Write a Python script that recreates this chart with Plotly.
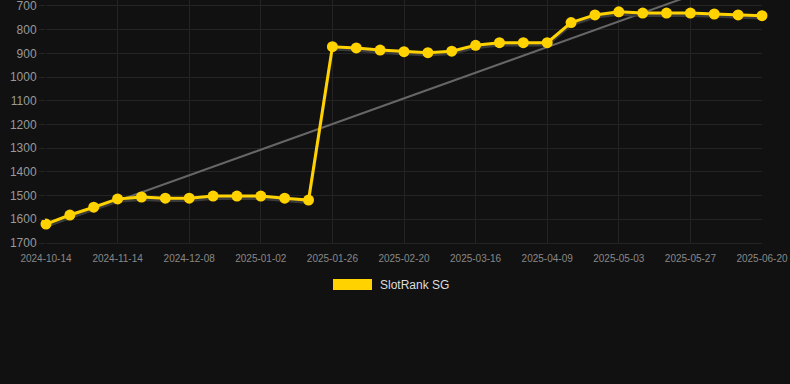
import plotly.graph_objects as go

dates = ["2024-10-14", "2024-10-24", "2024-11-03", "2024-11-14", "2024-11-22", "2024-11-30",
         "2024-12-08", "2024-12-16", "2024-12-24", "2025-01-02", "2025-01-10", "2025-01-18",
         "2025-01-26", "2025-02-03", "2025-02-11", "2025-02-20", "2025-02-28", "2025-03-08",
         "2025-03-16", "2025-03-24", "2025-04-01", "2025-04-09", "2025-04-17", "2025-04-25",
         "2025-05-03", "2025-05-11", "2025-05-19", "2025-05-27", "2025-06-04", "2025-06-12",
         "2025-06-20"]
ranks = [1620, 1582, 1549, 1514, 1506, 1511, 1511, 1502, 1502, 1502, 1511, 1519,
         872, 877, 886, 893, 897, 891, 866, 855, 855, 855,
         770, 738, 725, 730, 730, 730, 734, 738, 741]
trend_ends = [1631, 549]
y_ticks = [700, 800, 900, 1000, 1100, 1200, 1300, 1400, 1500, 1600, 1700]
series_name = "SlotRank SG"

idx = list(range(len(dates)))
tick_idx = idx[::3]
tick_labels = dates[::3]

BG = "#111111"
GRID = "#242424"
YELLOW = "#FFD200"

fig = go.Figure()
fig.add_trace(go.Scatter(x=[idx[0], idx[-1]], y=trend_ends, mode="lines",
                         line=dict(color="#666666", width=2), showlegend=False,
                         hoverinfo="skip"))
fig.add_trace(go.Scatter(x=idx, y=[v + 10 for v in ranks], mode="lines",
                         line=dict(color="#3a3a3a", width=3), showlegend=False,
                         hoverinfo="skip"))
fig.add_trace(go.Scatter(x=idx, y=ranks, mode="lines+markers", name=series_name,
                         line=dict(color=YELLOW, width=3), showlegend=False,
                         marker=dict(color=YELLOW, size=11), cliponaxis=False))

# legend drawn as a box + label
fig.add_shape(type="rect", xref="paper", yref="paper",
              x0=(333 - 46) / 716, x1=(372 - 46) / 716, y0=-36 / 243, y1=-47 / 243,
              fillcolor=YELLOW, line=dict(width=0))
fig.add_annotation(xref="paper", yref="paper", x=(378 - 46) / 716, y=-41.5 / 243,
                   xanchor="left", yanchor="middle", text=series_name, showarrow=False,
                   font=dict(size=12, color="#dddddd"))

fig.update_layout(
    width=790, height=384,
    paper_bgcolor=BG, plot_bgcolor=BG,
    margin=dict(l=46, r=28, t=0, b=141),
    font=dict(family="Liberation Sans, Arial, sans-serif", color="#999999"),
    showlegend=False,
    xaxis=dict(range=[0, 30], tickmode="array", tickvals=tick_idx,
               ticktext=tick_labels, showgrid=True, gridcolor=GRID, gridwidth=1,
               tickfont=dict(size=10, color="#888888"), zeroline=False,
               showline=True, linecolor=GRID, ticks="", ticklabelstandoff=6),
    yaxis=dict(range=[1700, 675], tickmode="array", tickvals=y_ticks,
               showgrid=True, gridcolor=GRID, gridwidth=1, zeroline=False,
               ticks="outside", ticklen=6, tickcolor=GRID, ticklabeloverflow="allow",
               tickfont=dict(size=12, color="#999999")),
)

fig.write_html("out.html", config={"displayModeBar": False},
               post_script="document.body.style.margin='0';")
